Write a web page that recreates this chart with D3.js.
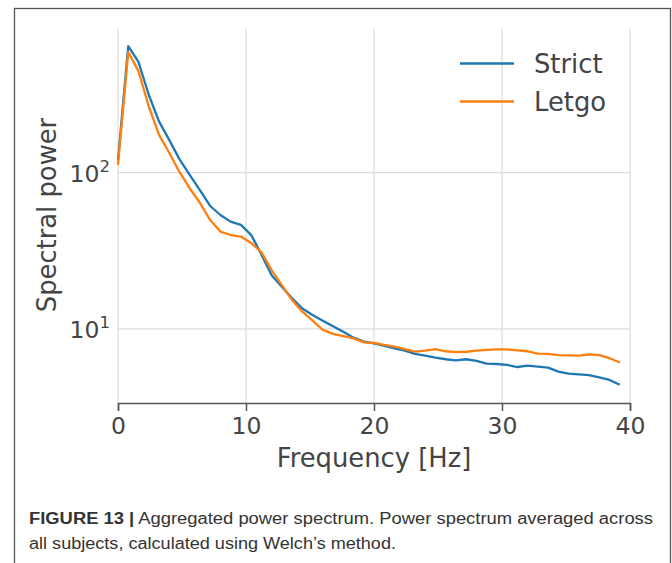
<!DOCTYPE html>
<html><head><meta charset="utf-8">
<script src="https://cdn.jsdelivr.net/npm/d3@7"></script>
<style>
html,body{margin:0;padding:0;background:#fff;}
svg{display:block;}
</style></head>
<body>
<svg id="chart" width="672" height="563"></svg>
<script>
const freqs = [0,0.8,1.6,2.4,3.2,4.0,4.8,5.6,6.4,7.2,8.0,8.8,9.6,10.4,11.2,12.0,12.8,13.6,14.4,15.2,16.0,16.8,17.6,18.4,19.2,20.0,20.8,21.6,22.4,23.2,24.0,24.8,25.6,26.4,27.2,28.0,28.8,29.6,30.4,31.2,32.0,32.8,33.6,34.4,35.2,36.0,36.8,37.6,38.4,39.2];
const strict = [120,644,511,315,213,162,122,96.7,77.4,61.2,53.6,48.6,46.3,40,30,22.1,18.6,15.7,13.5,12.3,11.3,10.4,9.6,8.8,8.3,8.09,7.8,7.5,7.26,6.92,6.75,6.55,6.4,6.3,6.4,6.24,6.0,5.97,5.89,5.71,5.82,5.75,5.66,5.33,5.18,5.13,5.07,4.9,4.72,4.4];
const letgo = [112,592,446,266,175,134,101,79.5,64,49.8,42,39.9,39,35.5,31,23.8,19.1,15.3,12.9,11.3,9.87,9.3,9.0,8.7,8.2,8.15,7.9,7.7,7.44,7.16,7.26,7.44,7.2,7.1,7.15,7.26,7.35,7.4,7.4,7.3,7.2,6.95,6.92,6.8,6.78,6.75,6.88,6.8,6.5,6.1];
const seriesNames = ["Strict","Letgo"];
const seriesColors = ["#1f77b4","#ff7f0e"];
const xTicks = [0,10,20,30,40];
const yTicks = [10,100];
const yTickExps = ["1","2"];
const xLabel = "Frequency [Hz]";
const yLabel = "Spectral power";
const captionBold = "FIGURE 13 |";
const captionLine1 = " Aggregated power spectrum. Power spectrum averaged across";
const captionLine2 = "all subjects, calculated using Welch\u2019s method.";

const svg = d3.select("#chart");
const pLeft = 118, pRight = 630, pTop = 29, pBottom = 403;
const x = d3.scaleLinear().domain([0,40]).range([pLeft,pRight]);
const y = d3.scaleLog().domain([3.36,830]).range([pBottom,pTop]);

// outer frame
svg.append("rect").attr("x",14.5).attr("y",8.5).attr("width",656).attr("height",620)
  .attr("fill","none").attr("stroke","#555").attr("stroke-width",1.3);

// grid
const g = svg.append("g");
g.selectAll("line.vg").data(xTicks).enter().append("line")
  .attr("x1",d=>x(d)).attr("x2",d=>x(d)).attr("y1",pTop).attr("y2",pBottom)
  .attr("stroke","#dcdcdc").attr("stroke-width",1.2);
g.selectAll("line.hg").data(yTicks).enter().append("line")
  .attr("x1",pLeft).attr("x2",pRight).attr("y1",d=>y(d)).attr("y2",d=>y(d))
  .attr("stroke","#dcdcdc").attr("stroke-width",1.2);

// x axis
const xAxis = d3.axisBottom(x).tickValues(xTicks).tickSize(8).tickPadding(6).tickFormat(d3.format("d"));
const xg = svg.append("g").attr("transform",`translate(0,${pBottom})`).call(xAxis);
xg.select(".domain").attr("stroke","#555").attr("stroke-width",1.5);
xg.selectAll(".tick line").attr("stroke","#555").attr("stroke-width",1.5);
xg.selectAll(".tick text").attr("fill","#444").attr("font-family","DejaVu Sans")
  .attr("font-size",23.5);

// y tick labels (log, 10^n)
const yl = svg.append("g");
yTicks.forEach((v,i)=>{
  const t = yl.append("text").attr("x",110).attr("y",y(v)+9).attr("text-anchor","end")
    .attr("fill","#444").attr("font-family","DejaVu Sans").attr("font-size",23.5);
  t.append("tspan").text("10");
  t.append("tspan").attr("dy",-10).attr("font-size",16.5).text(yTickExps[i]);
});

// axis labels
svg.append("text").attr("x",(pLeft+pRight)/2).attr("y",467).attr("text-anchor","middle")
  .attr("fill","#444").attr("font-family","DejaVu Sans").attr("font-size",25.8).text(xLabel);
svg.append("text").attr("transform","translate(56,215) rotate(-90)").attr("text-anchor","middle")
  .attr("fill","#444").attr("font-family","DejaVu Sans").attr("font-size",25.8).text(yLabel);

// lines
const line = d3.line().x((d,i)=>x(freqs[i])).y(d=>y(d));
[strict,letgo].forEach((s,k)=>{
  svg.append("path").datum(s).attr("d",line).attr("fill","none")
    .attr("stroke",seriesColors[k]).attr("stroke-width",2.3).attr("stroke-linejoin","round");
});

// legend
const legY = [63.5,101.5];
seriesNames.forEach((n,k)=>{
  svg.append("line").attr("x1",460).attr("x2",514).attr("y1",legY[k]).attr("y2",legY[k])
    .attr("stroke",seriesColors[k]).attr("stroke-width",2.3);
  svg.append("text").attr("x",534).attr("y",legY[k]+9).attr("fill","#444")
    .attr("font-family","DejaVu Sans").attr("font-size",25.8).text(n);
});

// caption
const c1 = svg.append("text").attr("x",29).attr("y",523.5).attr("fill","#333")
  .attr("font-family","Liberation Sans, Arial").attr("font-size",16)
  .attr("textLength",624).attr("lengthAdjust","spacingAndGlyphs");
c1.append("tspan").attr("font-weight","bold").text(captionBold);
c1.append("tspan").text(captionLine1);
svg.append("text").attr("x",29).attr("y",549).attr("fill","#333")
  .attr("font-family","Liberation Sans, Arial").attr("font-size",16)
  .attr("textLength",367).attr("lengthAdjust","spacingAndGlyphs").text(captionLine2);
</script>
</body></html>
